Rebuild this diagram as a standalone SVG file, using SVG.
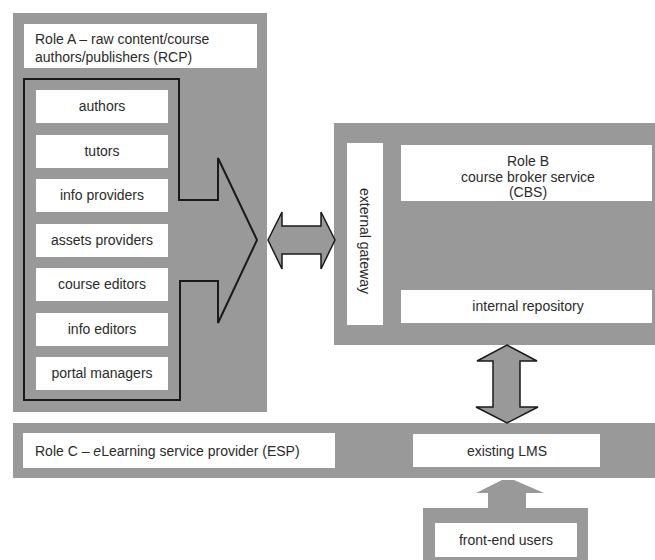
<svg xmlns="http://www.w3.org/2000/svg" width="655" height="560" viewBox="0 0 655 560">
<style>
.panel{fill:#999999}
.box{fill:#ffffff}
.t{font-family:"Liberation Sans",Arial,sans-serif;font-size:14px;fill:#2b2b2b}
.c{text-anchor:middle}
.arr{fill:#999999;stroke:#1a1a1a;stroke-width:1.5;stroke-linejoin:miter}
.outline{fill:none;stroke:#1a1a1a;stroke-width:2}
</style>
<rect width="655" height="560" fill="#ffffff"/>
<g id="roleA">
<rect class="panel" x="13" y="13" width="254" height="399"/>
<rect class="box" x="24" y="24" width="233" height="44"/>
<text class="t" x="35" y="44">Role A – raw content/course</text>
<text class="t" x="35" y="62">authors/publishers (RCP)</text>
</g>
<g id="authors"><rect class="box" x="36" y="90" width="132" height="33"/><text class="t c" x="102" y="111">authors</text></g>
<g id="tutors"><rect class="box" x="36" y="135" width="132" height="33"/><text class="t c" x="102" y="156">tutors</text></g>
<g id="info-providers"><rect class="box" x="36" y="179" width="132" height="33"/><text class="t c" x="102" y="200">info providers</text></g>
<g id="assets-providers"><rect class="box" x="36" y="224" width="132" height="33"/><text class="t c" x="102" y="245">assets providers</text></g>
<g id="course-editors"><rect class="box" x="36" y="268" width="132" height="33"/><text class="t c" x="102" y="289">course editors</text></g>
<g id="info-editors"><rect class="box" x="36" y="313" width="132" height="33"/><text class="t c" x="102" y="334">info editors</text></g>
<g id="portal-managers"><rect class="box" x="36" y="357" width="132" height="33"/><text class="t c" x="102" y="378">portal managers</text></g>
<g id="roleB">
<rect class="panel" x="334" y="123" width="321" height="222"/>
</g>
<g id="external-gateway">
<rect class="box" x="347" y="143" width="36" height="182"/>
<text class="t c" transform="translate(365,241) rotate(90)" x="0" y="5">external gateway</text>
</g>
<g id="cbs">
<rect class="box" x="401" y="145" width="251" height="56"/>
<text class="t c" x="528" y="166">Role B</text>
<text class="t c" x="528" y="181.5">course broker service</text>
<text class="t c" x="528" y="197">(CBS)</text>
</g>
<g id="internal-repository">
<rect class="box" x="401" y="290" width="251" height="33"/>
<text class="t c" x="528" y="311">internal repository</text>
</g>
<g id="roleC">
<rect class="panel" x="13" y="423" width="642" height="55"/>
<rect class="box" x="23" y="433" width="312" height="35"/>
<text class="t" x="35" y="456">Role C – <tspan font-style="italic">e</tspan>Learning service provider (ESP)</text>
</g>
<g id="existing-lms">
<rect class="box" x="413" y="434" width="187" height="33"/>
<text class="t c" x="507" y="456">existing LMS</text>
</g>
<g id="front-end-users">
<rect class="panel" x="423" y="508" width="165" height="52"/>
<rect class="box" x="435" y="523" width="142" height="34"/>
<text class="t c" x="506" y="545">front-end users</text>
</g>
<g id="connectors">
<polygon class="outline" points="24,79 179,79 179,200 218,200 218,158 257,240 218,323 218,281 180,281 180,400 24,400"/>
<polygon class="arr" points="268,240 282,212 282,226 321,226 321,212 335,240 321,269 321,254 282,254 282,269"/>
<polygon class="arr" points="507,345 537,361 520,361 520,407 538,407 507,423 476,407 493,407 493,361 477,361"/>
<polygon class="panel" points="502,480 514,480 544,493 526,493 526,508 488,508 488,493 476,493"/>
</g>
</svg>
